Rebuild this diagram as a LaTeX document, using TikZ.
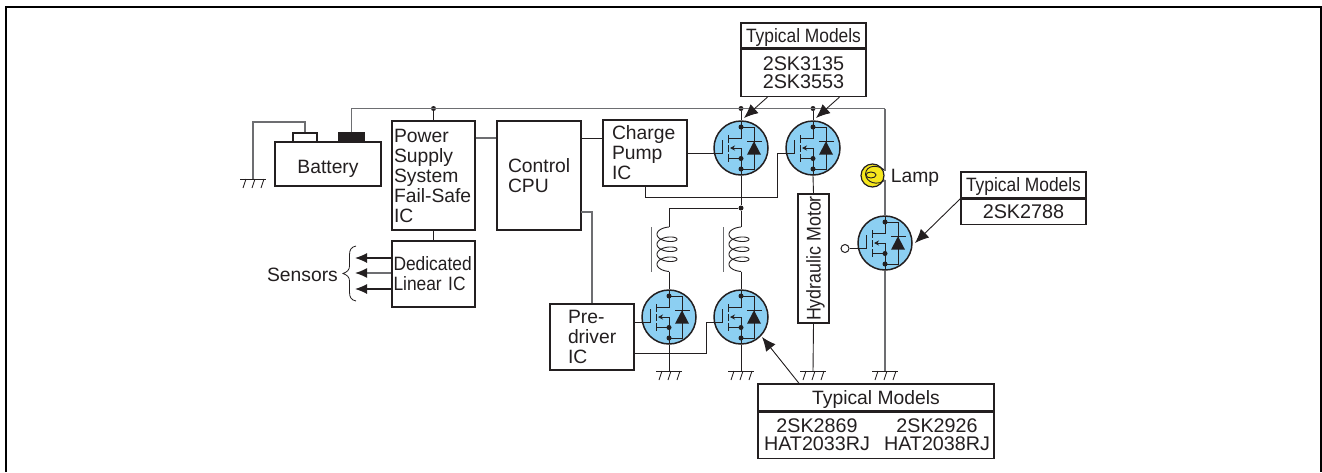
\documentclass[tikz,border=0pt]{standalone}
\usepackage{fontspec}
\setmainfont{Liberation Sans}
\newfontfamily\narrowfont[FakeStretch=0.9]{Liberation Sans}
\usepackage{xcolor}
\usepackage{tikz}
\usetikzlibrary{positioning,arrows.meta}
\definecolor{inkdark}{HTML}{231F20}
\definecolor{railgrey}{HTML}{6D6E71}
\definecolor{fetblue}{HTML}{8CCFF2}
\definecolor{lampyellow}{HTML}{F6E71D}
\tikzset{
  boxnode/.style={draw=inkdark,line width=1.4pt,fill=white,inner sep=0pt},
  wire/.style={draw=inkdark,line width=.9pt},
  railwire/.style={draw=railgrey,line width=1.4pt},
  dotnode/.style={circle,fill=inkdark,inner sep=0pt,minimum size=5pt},
  sensorarrow/.style={-{Latex[length=12pt,width=10pt,color=inkdark]}},
  modelarrow/.style={wire,-{Latex[length=14pt,width=12pt]}},
  pics/mosfet/.style={code={
    \node[circle,draw=inkdark,line width=1.5pt,fill=fetblue,minimum size=54pt,inner sep=0pt] (-body) at (0,0) {};
    \coordinate (-gate) at (-19,5.5);
    % channel and body
    \draw[wire] (0,-27) -- (0,-10) -- (-13,-10);
    \draw[wire] (0,0) -- (0,27);
    \draw[wire] (0,10.5) -- (-13,10.5);
    \draw[wire] (-13,-13) -- (-13,-5) (-13,-3) -- (-13,3.5) (-13,6) -- (-13,14);
    \draw[wire,-{Stealth[length=5pt,width=5pt]}] (0,0) -- (-11,0);
    \draw[wire] (-19,-8) -- (-19,5.5) -- (-27,5.5);
    % diode
    \draw[wire] (0,-21) -- (13,-21) -- (13,21) -- (0,21);
    \fill[inkdark] (6,6.7) -- (20,6.7) -- (13,-6.7) -- cycle;
    \draw[inkdark,line width=1.3pt] (6,-6.7) -- (21,-6.7);
    \node[dotnode] at (0,-21) {};
    \node[dotnode] at (0,10.5) {};
    \node[dotnode] at (0,21) {};
  }},
  pics/earth/.style={code={
    \coordinate (-top) at (0,0);
    \draw[wire] (-13,0) -- (13,0);
    \foreach \tickx in {-7,2,11}
      \draw[wire] (\tickx,0) -- (\tickx-3,9);
  }},
  pics/coil/.style={code={
    \coordinate (-in) at (0,0);
    \coordinate (-out) at (0,45);
    \draw[wire] plot[domain=78:1362,samples=220,variable=\t]
      ({-2+10*cos(\t)},{4.4-4.5*sin(\t)+10*(\t-78)/360});
    \draw[railwire,line width=.9pt] (-18,0) -- (-18,45);
  }}
}
\begin{document}
\begin{tikzpicture}[x=1pt,y=-1pt,>=Stealth,
    every node/.append style={text=inkdark,font=\fontsize{19.3}{20}\selectfont}]
  \useasboundingbox (0,0) rectangle (1322,472);
  % frame
  \draw[black,line width=2pt] (6,472) -- (6,7) -- (1321,7) -- (1321,472);
  % battery
  \node[boxnode,minimum width=106pt,minimum height=44pt,text height=18pt,text depth=0pt] (battery) at (328,164) {Battery};
  \node[boxnode,minimum width=24pt,minimum height=9pt] (termneg) at (305,137.5) {};
  \node[boxnode,fill=inkdark,minimum width=25pt,minimum height=9pt] (termpos) at (351.5,137.5) {};
  % blocks
  \node[boxnode,minimum width=83pt,minimum height=109pt,text width=79pt,align=left] (power) at (433.5,175.5)
    {Power\\Supply\\System\\Fail-Safe\\IC};
  \node[boxnode,minimum width=83pt,minimum height=66pt,text width=80pt,align=left,font=\narrowfont\fontsize{19.3}{20}\selectfont] (linear) at (433.5,274)
    {Dedicated\\Linear IC};
  \node[boxnode,minimum width=84pt,minimum height=109pt,text width=62pt,align=left] (cpu) at (539,175.5)
    {Control\\CPU};
  \node[boxnode,minimum width=84pt,minimum height=66pt,text width=66pt,align=left] (pump) at (645,153)
    {Charge\\Pump\\IC};
  \node[boxnode,minimum width=84pt,minimum height=66pt,text width=48pt,align=left] (predriver) at (592,337)
    {Pre-\\driver\\IC};
  \node[boxnode,rotate=90,minimum width=129pt,minimum height=31pt,text depth=0pt,font=\narrowfont\fontsize{19.8}{20}\selectfont] (motor) at (813.5,258.5)
    {Hydraulic Motor};
  % power devices
  \pic (fetA) at (741,148) {mosfet};
  \pic (fetB) at (813,148) {mosfet};
  \pic (fetC) at (885,243) {mosfet};
  \pic (fetD) at (669,317) {mosfet};
  \pic (fetE) at (741,317) {mosfet};
  \pic (coilA) at (669,227) {coil};
  \pic (coilB) at (741,227) {coil};
  \pic (earthBat) at (253,179) {earth};
  \pic (earthD) at (669,371) {earth};
  \pic (earthE) at (741,371) {earth};
  \pic (earthM) at (813,371) {earth};
  \pic (earthC) at (885,371) {earth};
  % supply rail
  \coordinate (railend) at (885,108.5);
  \coordinate (negcorner) at (253,122);
  \node[dotnode] (dotpower) at (433.5,108.5) {};
  \node[dotnode] (dotA) at (741,108.5) {};
  \node[dotnode] (dotB) at (813,108.5) {};
  \node[dotnode] (dotcoil) at (741,208) {};
  \draw[railwire] (termpos.north) |- (railend);
  \draw[railwire] (termneg.north) |- (negcorner) -- (earthBat-top);
  \draw[wire] (dotpower) -- (power.north);
  \draw[wire] (power.south) -- (linear.north);
  \draw[wire] (dotA) -- (fetA-body.north);
  \draw[wire] (dotB) -- (fetB-body.north);
  % lamp
  \node[circle,draw=inkdark,line width=1.2pt,fill=lampyellow,minimum size=23pt,inner sep=0pt] (lamp) at (872.5,175.5) {};
  \draw[inkdark,line width=.9pt] (871,175) ellipse (5pt and 3pt);
  \draw[inkdark,line width=.9pt] (885,170.5) .. controls (878,164) and (866,165) .. (865.5,174)
    .. controls (866,183) and (878,186) .. (885,180);
  \node (lamplabel) at (915,178) {Lamp};
  \coordinate (lamptop) at (885,170.5);
  \coordinate (lampbot) at (885,180);
  \draw[railwire] (railend) -- (lamptop);
  \draw[railwire] (lampbot) -- (fetC-body.north);
  \draw[railwire] (fetC-body.south) -- (earthC-top);
  % control wiring
  \coordinate (cpuline) at (581,138);
  \draw[railwire] (power.east |- cpuline) -- (cpu.west |- cpuline);
  \draw[wire] (cpuline) -- (pump.west |- cpuline);
  \coordinate (cputap) at (581,212);
  \draw[railwire] (cputap) -| (predriver.north);
  \draw[wire] (pump.east |- fetA-gate) -- (fetA-gate);
  \coordinate (bendB) at (777,197);
  \draw[wire] (pump.south) |- (bendB) |- (fetB-gate);
  \draw[wire] (predriver.east |- fetD-gate) -- (fetD-gate);
  \coordinate (bendE) at (706,353);
  \draw[wire] (predriver.east |- bendE) -- (bendE) |- (fetE-gate);
  % load branches
  \draw[wire] (fetA-body.south) -- (dotcoil) -- (coilB-in);
  \draw[wire] (dotcoil) -| (coilA-in);
  \draw[wire] (coilA-out) -- (fetD-body.north);
  \draw[wire] (coilB-out) -- (fetE-body.north);
  \draw[wire] (fetD-body.south) -- (earthD-top);
  \draw[wire] (fetE-body.south) -- (earthE-top);
  \draw[wire] (fetB-body.south) -- (motor.east);
  \draw[wire] (motor.west) -- (earthM-top);
  \node[circle,draw=inkdark,line width=1pt,fill=white,minimum size=8pt,inner sep=0pt] (gateC) at (845,248.5) {};
  \draw[wire] (gateC) -- (fetC-gate);
  % sensors
  \coordinate (sensorA) at (355,258);
  \coordinate (sensorB) at (355,273);
  \coordinate (sensorC) at (355,289);
  \draw[wire,line width=1.1pt,sensorarrow] (linear.west |- sensorA) -- (sensorA);
  \draw[railwire,sensorarrow] (linear.west |- sensorB) -- (sensorB);
  \draw[wire,line width=1.1pt,sensorarrow] (linear.west |- sensorC) -- (sensorC);
  \node (sensors) at (302.5,274.5) {Sensors};
  \draw[inkdark,line width=.8pt] (356,246) .. controls (351,247) and (349.5,250) .. (349.5,255)
    -- (349.5,266) .. controls (349.5,270) and (347,272) .. (343,273.5)
    .. controls (347,275) and (349.5,277) .. (349.5,281) -- (349.5,292)
    .. controls (349.5,297) and (351,300) .. (356,301);
  % typical models
  \node[boxnode,minimum width=125pt,minimum height=25pt,text depth=0pt,font=\narrowfont\fontsize{19.3}{20}\selectfont] (typeA) at (803.5,35.5) {Typical Models};
  \node[boxnode,minimum width=125pt,minimum height=47pt,align=center,below=0pt of typeA,font=\fontsize{19.8}{18.5}\selectfont] (modelsA) {2SK3135\\2SK3553};
  \node[boxnode,minimum width=125pt,minimum height=26pt,text depth=0pt,font=\narrowfont\fontsize{19.3}{20}\selectfont] (typeC) at (1023.5,185) {Typical Models};
  \node[boxnode,minimum width=125pt,minimum height=25pt,below=0pt of typeC,font=\fontsize{19.8}{19}\selectfont] (modelsC) {2SK2788};
  \node[boxnode,minimum width=236pt,minimum height=27pt,text depth=0pt] (typeE) at (876,397.5) {Typical Models};
  \node[boxnode,minimum width=236pt,minimum height=46pt,below=0pt of typeE] (modelsE) {};
  \node[align=center,font=\fontsize{19.7}{18}\selectfont] (modelsEleft) at (817,435) {2SK2869\\HAT2033RJ};
  \node[align=center,font=\fontsize{19.7}{18}\selectfont] (modelsEright) at (937,435) {2SK2926\\HAT2038RJ};
  \coordinate (tipA) at (744,118);
  \coordinate (tipB) at (816,118);
  \coordinate (tipC) at (915,243);
  \coordinate (tipE) at (762,337);
  \draw[modelarrow] ([xshift=-36pt]modelsA.south) -- (tipA);
  \draw[modelarrow] ([xshift=36pt]modelsA.south) -- (tipB);
  \draw[modelarrow] (modelsC.north west) -- (tipC);
  \draw[modelarrow] ([xshift=-77pt]typeE.north) -- (tipE);
\end{tikzpicture}
\end{document}
